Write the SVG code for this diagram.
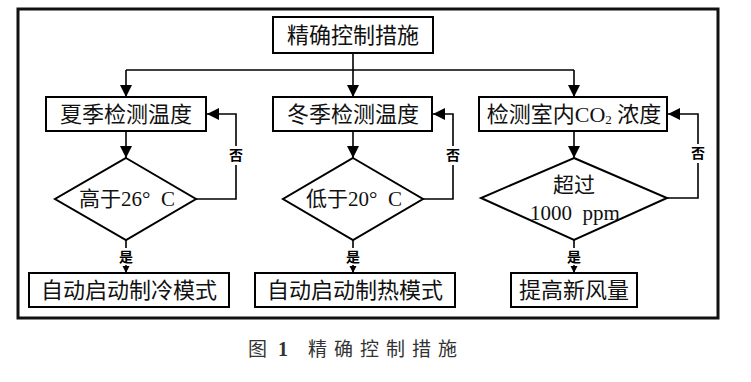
<svg xmlns="http://www.w3.org/2000/svg" width="751" height="382" viewBox="0 0 751 382">
<style>
.box{fill:#fff;stroke:#000;stroke-width:2}
.dia{fill:#fff;stroke:#000;stroke-width:2}
.ln{fill:none;stroke:#000;stroke-width:1.6}
.t{font-family:"Liberation Serif","Noto Sans CJK SC",serif;font-size:22px;fill:#111;text-anchor:middle}
.d{font-family:"Liberation Serif","Noto Sans CJK SC",serif;font-size:21px;fill:#111;text-anchor:middle}
.lab{font-family:"Noto Sans CJK SC",sans-serif;font-size:14px;font-weight:bold;fill:#000;text-anchor:middle}
.cap{font-family:"Noto Sans CJK SC",sans-serif;font-size:19px;fill:#333}
</style>
<defs>
<marker id="a" markerUnits="userSpaceOnUse" markerWidth="12" markerHeight="14" refX="12" refY="6" orient="auto"><path d="M0,0 L12,6 L0,12 Z" fill="#000"/></marker>
<marker id="s" markerUnits="userSpaceOnUse" markerWidth="8" markerHeight="8" refX="7" refY="3.5" orient="auto"><path d="M0,0 L7,3.5 L0,7 Z" fill="#000"/></marker>
</defs>
<rect x="0" y="0" width="751" height="382" fill="#fff"/>
<rect x="18" y="9" width="700" height="309" fill="none" stroke="#111" stroke-width="3"/>
<g id="connectors">
<path class="ln" d="M353,53 V97" marker-end="url(#a)"/>
<path class="ln" d="M126,70 H574"/>
<path class="ln" d="M126,70 V97" marker-end="url(#a)"/>
<path class="ln" d="M574,70 V97" marker-end="url(#a)"/>
<path class="ln" d="M126,131 V158" marker-end="url(#a)"/>
<path class="ln" d="M353,131 V158" marker-end="url(#a)"/>
<path class="ln" d="M574,131 V158" marker-end="url(#a)"/>
<path class="ln" d="M196,199 H236 V165"/>
<path class="ln" d="M236,146 V114 H207" marker-end="url(#a)"/>
<path class="ln" d="M423,199 H453 V165"/>
<path class="ln" d="M453,146 V114 H433" marker-end="url(#a)"/>
<path class="ln" d="M667,198 H698 V163"/>
<path class="ln" d="M698,144 V114 H668" marker-end="url(#a)"/>
<path class="ln" d="M126,240 V248"/>
<path class="ln" d="M126,265 V273" marker-end="url(#s)"/>
<path class="ln" d="M353,240 V248"/>
<path class="ln" d="M353,265 V273" marker-end="url(#s)"/>
<path class="ln" d="M574,240 V248"/>
<path class="ln" d="M574,265 V273" marker-end="url(#s)"/>
<text class="lab" x="236" y="160">否</text>
<text class="lab" x="453" y="160">否</text>
<text class="lab" x="698" y="158">否</text>
<text class="lab" x="126" y="262">是</text>
<text class="lab" x="353" y="262">是</text>
<text class="lab" x="574" y="262">是</text>
</g>
<g id="top">
<rect class="box" x="273" y="17" width="160" height="36"/>
<text class="t" x="353" y="43">精确控制措施</text>
</g>
<g id="summer">
<rect class="box" x="46" y="97" width="160" height="34"/>
<text class="t" x="126" y="122">夏季检测温度</text>
</g>
<g id="winter">
<rect class="box" x="273" y="97" width="159" height="34"/>
<text class="t" x="353" y="122">冬季检测温度</text>
</g>
<g id="co2">
<rect class="box" x="479" y="97" width="188" height="34"/>
<text class="t" x="574" y="122">检测室内CO<tspan font-size="13px" dy="2">2</tspan><tspan dy="-2"> 浓度</tspan></text>
</g>
<g id="dia1">
<path class="dia" d="M126,158 L196,199 L126,240 L55,199 Z"/>
<text class="d" x="127" y="206">高于26°&#160;&#160;C</text>
</g>
<g id="dia2">
<path class="dia" d="M353,158 L423,199 L353,240 L283,199 Z"/>
<text class="d" x="354" y="206">低于20°&#160;&#160;C</text>
</g>
<g id="dia3">
<path class="dia" d="M574,158 L667,198 L574,240 L481,198 Z"/>
<text class="d" x="574" y="192">超过</text>
<text class="d" x="575" y="220">1000&#160;&#160;ppm</text>
</g>
<g id="cool">
<rect class="box" x="29" y="273" width="200" height="34"/>
<text class="t" x="129" y="298">自动启动制冷模式</text>
</g>
<g id="heat">
<rect class="box" x="255" y="273" width="200" height="34"/>
<text class="t" x="355" y="298">自动启动制热模式</text>
</g>
<g id="fresh">
<rect class="box" x="511" y="273" width="126" height="34"/>
<text class="t" x="574" y="298">提高新风量</text>
</g>
<g id="caption">
<text class="cap" x="248" y="356">图</text>
<text x="278" y="356" font-family="Liberation Serif,serif" font-weight="bold" font-size="20px" fill="#333">1</text>
<text class="cap" x="308" y="356" letter-spacing="7">精确控制措施</text>
</g>
</svg>
